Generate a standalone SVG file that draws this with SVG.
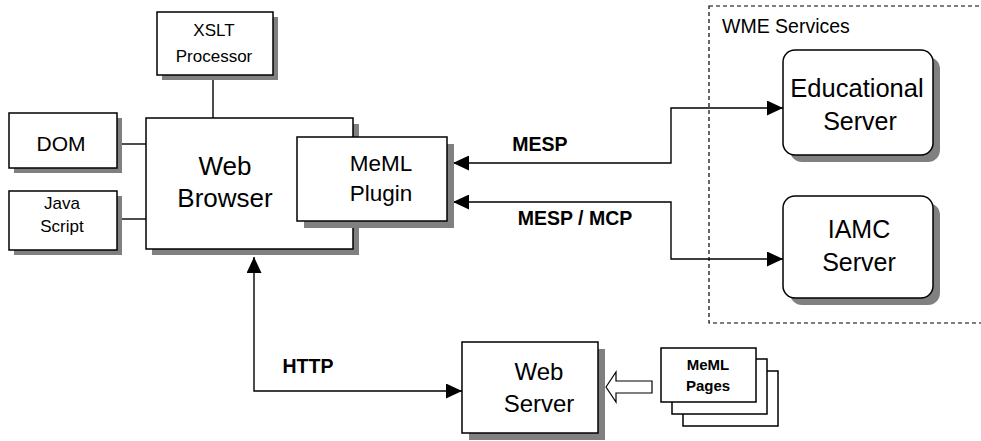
<svg xmlns="http://www.w3.org/2000/svg" width="981" height="441" viewBox="0 0 981 441">
<defs>
<style>
.box{fill:#fff;stroke:#000;stroke-width:1.5}
.sh{fill:#808080;stroke:none}
.t{font-family:"Liberation Sans",Arial,Helvetica,sans-serif;fill:#000;text-anchor:middle}
.b{font-weight:bold}
.ln{fill:none;stroke:#000;stroke-width:1.4}
.dash{fill:none;stroke:#000;stroke-width:1.2;stroke-dasharray:4 3}
</style>
<marker id="ah" viewBox="0 0 16 15" refX="16" refY="7.5" markerWidth="16" markerHeight="15" markerUnits="userSpaceOnUse" orient="auto-start-reverse">
<path d="M0,0 L16,7.5 L0,15 Z" fill="#000"/>
</marker>
</defs>
<rect width="981" height="441" fill="#fff"/>

<g id="wme-services">
<rect class="dash" x="709" y="6" width="290" height="317"/>
<text class="t" x="722" y="33" font-size="19.5" style="text-anchor:start">WME Services</text>
</g>

<g id="connectors">
<line class="ln" x1="213" y1="75" x2="213" y2="118"/>
<line class="ln" x1="117" y1="144" x2="146" y2="144"/>
<line class="ln" x1="117" y1="219" x2="146" y2="219"/>
<polyline class="ln" points="453,163 671,163 671,108 783,108" marker-start="url(#ah)" marker-end="url(#ah)"/>
<polyline class="ln" points="453,202 671,202 671,259 783,259" marker-start="url(#ah)" marker-end="url(#ah)"/>
<polyline class="ln" points="254,257 254,391 462,391" marker-start="url(#ah)" marker-end="url(#ah)"/>
<polygon points="606,387 616,372 616,381 652,381 652,393 616,393 616,402" fill="#fff" stroke="#000" stroke-width="1.2"/>
<text class="t b" x="540" y="151" font-size="19.5">MESP</text>
<text class="t b" x="575" y="225" font-size="19.5">MESP / MCP</text>
<text class="t b" x="308" y="373" font-size="19.5">HTTP</text>
</g>

<g id="xslt">
<rect class="sh" x="162" y="17" width="116" height="63"/>
<rect class="box" x="157" y="12" width="116" height="63"/>
<text class="t" x="214" y="36" font-size="17">XSLT</text>
<text class="t" x="214" y="62" font-size="17">Processor</text>
</g>

<g id="dom">
<rect class="sh" x="14" y="118" width="108" height="55"/>
<rect class="box" x="9" y="113" width="108" height="55"/>
<text class="t" x="61" y="151" font-size="21">DOM</text>
</g>

<g id="javascript">
<rect class="sh" x="14" y="196" width="108" height="59"/>
<rect class="box" x="9" y="191" width="108" height="59"/>
<text class="t" x="62" y="209" font-size="17">Java</text>
<text class="t" x="62" y="232" font-size="17">Script</text>
</g>

<g id="web-browser">
<rect class="sh" x="152" y="124" width="207" height="131"/>
<rect class="box" x="146" y="118" width="207" height="131"/>
<text class="t" x="225" y="175" font-size="26">Web</text>
<text class="t" x="225" y="207" font-size="26">Browser</text>
</g>

<g id="meml-plugin">
<rect class="sh" x="304" y="144" width="150" height="84"/>
<rect class="box" x="297" y="137" width="150" height="84"/>
<text class="t" x="381" y="171" font-size="22.5">MeML</text>
<text class="t" x="381" y="201" font-size="22.5">Plugin</text>
</g>

<g id="educational-server">
<rect class="sh" x="790" y="57" width="150" height="105" rx="12"/>
<rect class="box" x="783" y="50" width="150" height="105" rx="12"/>
<text class="t" x="857" y="97" font-size="25.5">Educational</text>
<text class="t" x="860" y="130" font-size="25">Server</text>
</g>

<g id="iamc-server">
<rect class="sh" x="790" y="203" width="150" height="102" rx="12"/>
<rect class="box" x="783" y="196" width="150" height="102" rx="12"/>
<text class="t" x="859" y="238" font-size="25">IAMC</text>
<text class="t" x="859" y="271" font-size="25">Server</text>
</g>

<g id="web-server">
<rect class="sh" x="469" y="349" width="136" height="91"/>
<rect class="box" x="462" y="342" width="136" height="91"/>
<text class="t" x="539" y="380" font-size="24">Web</text>
<text class="t" x="539" y="412" font-size="24">Server</text>
</g>

<g id="meml-pages">
<rect class="box" x="683" y="371" width="95" height="55"/>
<rect class="box" x="672" y="359" width="95" height="55"/>
<rect class="box" x="661" y="348" width="95" height="54"/>
<text class="t b" x="708" y="370" font-size="15">MeML</text>
<text class="t b" x="708" y="391" font-size="15">Pages</text>
</g>
</svg>
